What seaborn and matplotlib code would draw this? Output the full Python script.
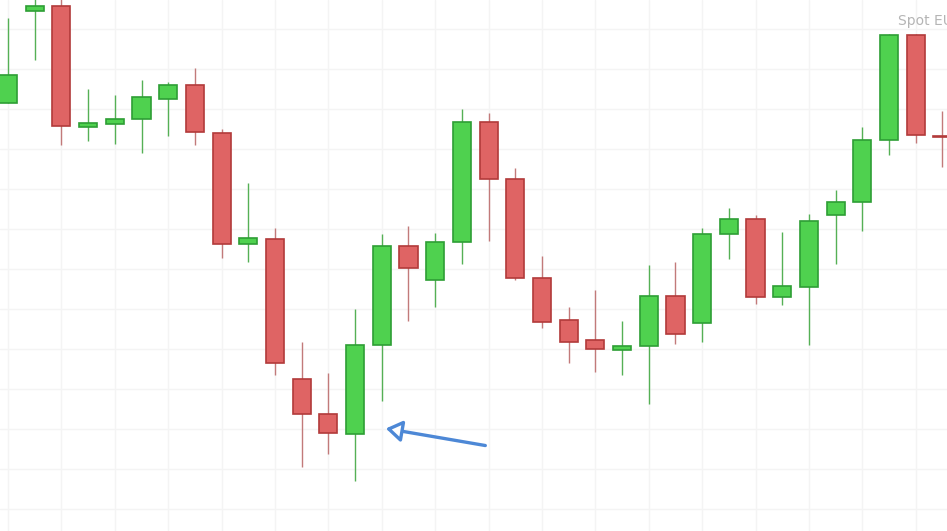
import numpy as np
import seaborn as sns
import matplotlib
matplotlib.use("Agg")
import matplotlib.pyplot as plt
from matplotlib.patches import FancyArrowPatch

# Valores (escala vertical em "pontos")
abertura = [428, 520, 525, 404, 407, 412, 432, 446, 398, 287, 292, 152,
            117, 97, 186, 285, 251, 289, 409, 352, 253, 211, 191, 181,
            185, 235, 208, 297, 312, 234, 244, 316, 329, 391, 496, 395]
maxima = [513, 534, 534, 442, 436, 451, 449, 463, 402, 348, 303, 189,
          158, 222, 297, 305, 298, 422, 418, 363, 275, 224, 241, 210,
          266, 269, 303, 323, 316, 299, 317, 341, 404, 497, 497, 420]
minima = [428, 471, 386, 390, 387, 378, 395, 386, 273, 269, 156, 64,
          77, 50, 130, 210, 224, 267, 290, 251, 203, 168, 159, 156,
          127, 187, 189, 272, 227, 226, 186, 267, 300, 376, 388, 364]
fechamento = [456, 525, 405, 408, 412, 434, 446, 399, 287, 293, 168, 117,
              98, 186, 285, 263, 289, 409, 352, 253, 209, 189, 182, 185,
              235, 197, 297, 312, 234, 245, 310, 329, 391, 496, 396, 394]
titulo = "Spot EUR/USD"

sns.set_theme(style="white")

fig = plt.figure(figsize=(9.47, 5.31), dpi=100)
ax = fig.add_axes([0, 0, 1, 1])

x = np.arange(len(abertura))
o = np.array(abertura)
c = np.array(fechamento)
alta = c >= o

verde, verde_borda, verde_pavio = "#4fd14f", "#2e9e35", "#55b055"
verm, verm_borda, verm_pavio = "#df6464", "#b23a3a", "#c27a7a"

# pavios
ax.vlines(x[alta], np.array(minima)[alta], np.array(maxima)[alta],
          color=verde_pavio, lw=1.0, zorder=2)
ax.vlines(x[~alta], np.array(minima)[~alta], np.array(maxima)[~alta],
          color=verm_pavio, lw=1.0, zorder=2)

# corpos
base = np.minimum(o, c)
altura = np.maximum(np.abs(c - o), 1)
ax.bar(x[alta], altura[alta], bottom=base[alta], width=0.68,
       color=verde, edgecolor=verde_borda, linewidth=1.2, zorder=3)
ax.bar(x[~alta], altura[~alta], bottom=base[~alta], width=0.68,
       color=verm, edgecolor=verm_borda, linewidth=1.2, zorder=3)

# seta apontando o candle
seta = FancyArrowPatch((17.98, 85), (14.05, 103),
                       arrowstyle="-|>,head_length=0.6,head_width=0.4",
                       mutation_scale=16, lw=2.4, ec="#4d88d6", fc="white",
                       zorder=4)
ax.add_patch(seta)

ax.text(33.33, 510, titulo, color="#b5b5b5", fontsize=10,
        va="center", ha="left")

ax.set_xlim(-0.30, 35.17)
ax.set_ylim(0, 531)
ax.set_xticks(np.arange(0, 36, 2))
ax.set_yticks(np.arange(22, 531, 40))
ax.grid(True, color="#f4f4f4", lw=1.0, zorder=0)
ax.set_axisbelow(True)
ax.tick_params(length=0, labelbottom=False, labelleft=False)
for s in ax.spines.values():
    s.set_visible(False)

fig.savefig("out.png", dpi=100)
